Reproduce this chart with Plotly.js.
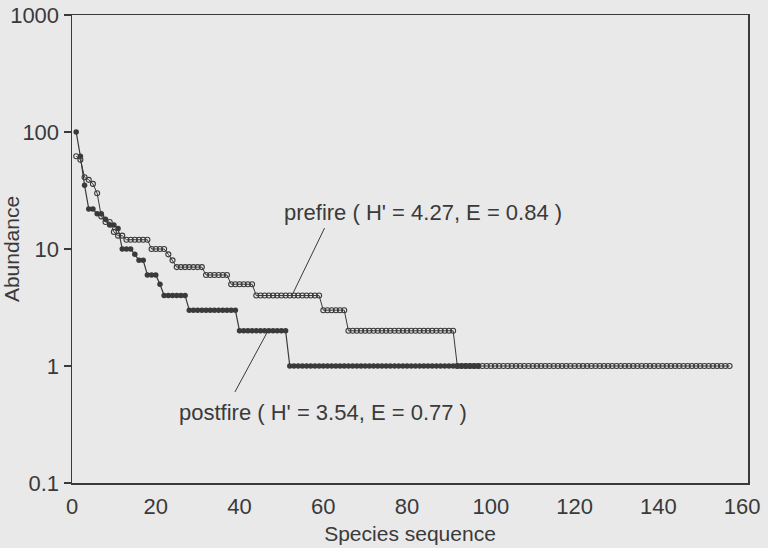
<!DOCTYPE html>
<html>
<head>
<meta charset="utf-8">
<script src="https://cdn.plot.ly/plotly-3.0.1.min.js"></script>
<style>
  html, body { margin: 0; padding: 0; background: #e9e9e9; }
  #chart { width: 768px; height: 548px; }
</style>
</head>
<body>
<div id="chart"></div>
<script>
// Abundance of each species, ranked (species sequence 1..N)
const prefireAbundance = [
  62, 58, 41, 39, 36, 30, 19, 17, 17, 14,
  13, 13, 12, 12, 12, 12, 12, 12, 10, 10,
  10, 10, 9, 8, 7, 7, 7, 7, 7, 7,
  7, 6, 6, 6, 6, 6, 6, 5, 5, 5,
  5, 5, 5, 4, 4, 4, 4, 4, 4, 4,
  4, 4, 4, 4, 4, 4, 4, 4, 4, 3,
  3, 3, 3, 3, 3, 2, 2, 2, 2, 2,
  2, 2, 2, 2, 2, 2, 2, 2, 2, 2,
  2, 2, 2, 2, 2, 2, 2, 2, 2, 2,
  2, 1, 1, 1, 1, 1, 1, 1, 1, 1,
  1, 1, 1, 1, 1, 1, 1, 1, 1, 1,
  1, 1, 1, 1, 1, 1, 1, 1, 1, 1,
  1, 1, 1, 1, 1, 1, 1, 1, 1, 1,
  1, 1, 1, 1, 1, 1, 1, 1, 1, 1,
  1, 1, 1, 1, 1, 1, 1, 1, 1, 1,
  1, 1, 1, 1, 1, 1, 1
];
const postfireAbundance = [
  100, 62, 35, 22, 22, 20, 20, 18, 16, 16,
  15, 10, 10, 10, 9, 8, 8, 6, 6, 6,
  5, 4, 4, 4, 4, 4, 4, 3, 3, 3,
  3, 3, 3, 3, 3, 3, 3, 3, 3, 2,
  2, 2, 2, 2, 2, 2, 2, 2, 2, 2,
  2, 1, 1, 1, 1, 1, 1, 1, 1, 1,
  1, 1, 1, 1, 1, 1, 1, 1, 1, 1,
  1, 1, 1, 1, 1, 1, 1, 1, 1, 1,
  1, 1, 1, 1, 1, 1, 1, 1, 1, 1,
  1, 1, 1, 1, 1, 1, 1
];
const seriesNames = ["prefire", "postfire"];
const prefireLabel = "prefire ( H' = 4.27, E = 0.84 )";
const postfireLabel = "postfire ( H' = 3.54, E = 0.77 )";
const xTickVals = [0, 20, 40, 60, 80, 100, 120, 140, 160];
const yTickVals = [0.1, 1, 10, 100, 1000];
const yTickText = ["0.1", "1", "10", "100", "1000"];

const rank = arr => arr.map((_, i) => i + 1);

const ink = '#3a3a3a';
const bg = '#e9e9e9';
const fontFamily = 'Liberation Sans, Arial, sans-serif';

const traces = [
  {
    name: seriesNames[0],
    x: rank(prefireAbundance),
    y: prefireAbundance,
    type: 'scatter',
    mode: 'lines+markers',
    line: { color: ink, width: 1 },
    marker: { symbol: 'circle-open', size: 5, color: ink, line: { width: 1.1, color: ink } },
    showlegend: false
  },
  {
    name: seriesNames[1],
    x: rank(postfireAbundance),
    y: postfireAbundance,
    type: 'scatter',
    mode: 'lines+markers',
    line: { color: ink, width: 1.2 },
    marker: { symbol: 'circle', size: 5.5, color: ink },
    showlegend: false
  }
];

const layout = {
  width: 768,
  height: 548,
  margin: { l: 72, r: 20, t: 15, b: 65 },
  paper_bgcolor: bg,
  plot_bgcolor: bg,
  font: { family: fontFamily, size: 21, color: ink },
  xaxis: {
    range: [0, 161.4],
    tickvals: xTickVals,
    ticks: 'outside',
    ticklen: 3,
    tickcolor: 'rgba(0,0,0,0)',
    showgrid: false,
    zeroline: false,
    showline: true,
    mirror: true,
    linecolor: ink,
    linewidth: 1.5,
    tickfont: { size: 22, color: ink },
    title: { text: 'Species sequence', font: { size: 21, color: ink }, standoff: 8 }
  },
  yaxis: {
    type: 'log',
    range: [-1, 3],
    tickvals: yTickVals,
    ticktext: yTickText,
    ticks: 'outside',
    ticklen: 7,
    tickwidth: 1.5,
    tickcolor: ink,
    showgrid: false,
    zeroline: false,
    showline: true,
    mirror: true,
    linecolor: ink,
    linewidth: 1.5,
    tickfont: { size: 22, color: ink },
    title: { text: 'Abundance', font: { size: 21, color: ink }, standoff: 2 }
  },
  annotations: [
    {
      text: prefireLabel, xref: 'paper', yref: 'paper',
      x: 0.3107, y: 0.579, xanchor: 'left', yanchor: 'middle',
      showarrow: false, font: { size: 22, color: ink }
    },
    {
      text: postfireLabel, xref: 'paper', yref: 'paper',
      x: 0.1553, y: 0.1517, xanchor: 'left', yanchor: 'middle',
      showarrow: false, font: { size: 22, color: ink }
    }
  ],
  shapes: [
    { type: 'line', xref: 'x', yref: 'y', x0: 52.5, y0: 4, x1: 60.3, y1: 15.1,
      line: { color: ink, width: 1 } },
    { type: 'line', xref: 'x', yref: 'y', x0: 46.8, y0: 2, x1: 38.9, y1: 0.6,
      line: { color: ink, width: 1 } }
  ]
};

Plotly.newPlot('chart', traces, layout, { displayModeBar: false, staticPlot: true });
</script>
</body>
</html>
